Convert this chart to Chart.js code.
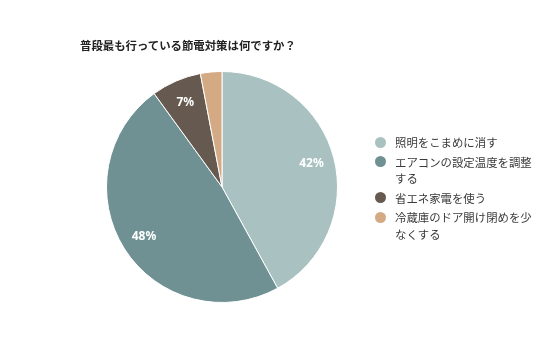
<!DOCTYPE html>
<html><head><meta charset="utf-8">
<script src="https://cdn.jsdelivr.net/npm/chart.js@4/dist/chart.umd.min.js"></script>
<style>
html,body{margin:0;padding:0;background:#fff;}
#wrap{position:relative;width:536px;height:357px;font-family:"Noto Sans CJK JP","Noto Sans",sans-serif;}
#c{position:absolute;left:0;top:0;}
#title{position:absolute;left:80px;top:36px;font-size:11.4px;font-weight:bold;color:#222;white-space:nowrap;line-height:18px;}
#legend{position:absolute;left:375px;top:134px;width:161px;font-size:11.4px;color:#3a3a3a;line-height:16.5px;}
.item{display:flex;align-items:flex-start;margin-bottom:3px;}
.dot{width:11px;height:11px;border-radius:50%;flex:none;margin:2.5px 9px 0 0;}
.txt{width:139px;}
</style></head>
<body><div id="wrap"><canvas id="c" width="536" height="357"></canvas><div id="title"></div><div id="legend"></div></div>
<script>
const titleText = "普段最も行っている節電対策は何ですか？";
const categories = ["照明をこまめに消す","エアコンの設定温度を調整する","省エネ家電を使う","冷蔵庫のドア開け閉めを少なくする"];
const values = [42, 48, 7, 3];
const colors = ["#a9c1c0","#6f9194","#665a50","#d4aa85"];

document.getElementById('title').textContent = titleText;
const lg = document.getElementById('legend');
categories.forEach((c,i)=>{
  const it = document.createElement('div'); it.className='item';
  const d = document.createElement('div'); d.className='dot'; d.style.background=colors[i];
  const t = document.createElement('div'); t.className='txt'; t.textContent=c;
  it.appendChild(d); it.appendChild(t); lg.appendChild(it);
});

const labelPlugin = {
  id:'pctLabels',
  afterDatasetsDraw(chart){
    const ctx = chart.ctx;
    const meta = chart.getDatasetMeta(0);
    ctx.save();
    ctx.fillStyle='#fff';
    ctx.font='bold 12px "Noto Sans","DejaVu Sans",sans-serif';
    ctx.textAlign='center'; ctx.textBaseline='middle';
    meta.data.forEach((arc,i)=>{
      if (values[i] < 5) return;
      const p = arc.getProps(['x','y','startAngle','endAngle','outerRadius'],true);
      const a = (p.startAngle+p.endAngle)/2;
      const r = p.outerRadius*0.8;
      ctx.fillText(values[i]+'%', p.x+Math.cos(a)*r, p.y+Math.sin(a)*r);
    });
    ctx.restore();
  }
};

new Chart(document.getElementById('c'),{
  type:'pie',
  data:{labels:categories,datasets:[{data:values,backgroundColor:colors,borderColor:'#fff',borderWidth:1}]},
  options:{
    responsive:false,animation:false,
    layout:{padding:{left:106,top:71,right:198,bottom:54}},
    plugins:{legend:{display:false},tooltip:{enabled:false},title:{display:false}}
  },
  plugins:[labelPlugin]
});
</script></body></html>
